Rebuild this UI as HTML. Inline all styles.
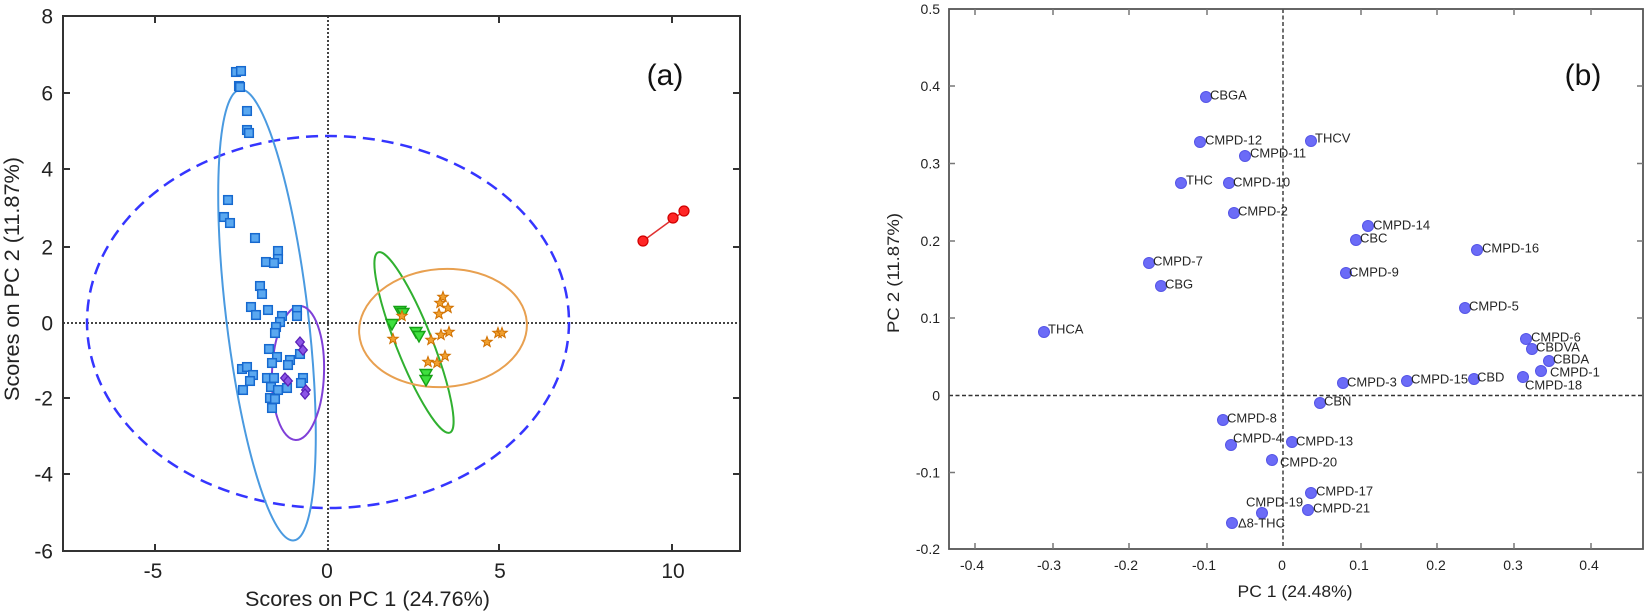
<!DOCTYPE html>
<html>
<head>
<meta charset="utf-8">
<style>
html,body{margin:0;padding:0;background:#fff;}
svg{display:block;}
text{font-family:"Liberation Sans",Arial,sans-serif;}
</style>
</head>
<body>
<svg width="1650" height="614" viewBox="0 0 1650 614" xmlns="http://www.w3.org/2000/svg">
<defs>
  <rect id="sq" x="-4.3" y="-4.3" width="8.6" height="8.6" fill="#5aa8f0" stroke="#1769cf" stroke-width="1.5"/>
  <path id="dm" d="M0,-5 L4.3,0 L0,5 L-4.3,0Z" fill="#8c55e6" stroke="#5a22b8" stroke-width="1.3"/>
  <path id="tr" d="M-6,-4.5 L6,-4.5 L0,6Z" fill="#3fe03f" stroke="#16a016" stroke-width="1.4"/>
  <path id="st" d="M0,-5.5 L1.35,-1.86 L5.23,-1.7 L2.19,0.71 L3.23,4.45 L0,2.3 L-3.23,4.45 L-2.19,0.71 L-5.23,-1.7 L-1.35,-1.86Z" fill="#f0a030" stroke="#d07000" stroke-width="1"/>
  <circle id="rd" r="5" fill="#ff2626" stroke="#d00000" stroke-width="1.2"/>
  <circle id="bc" r="5.5" fill="#6b6bf7" stroke="#5555e6" stroke-width="1"/>
</defs>

<rect width="1650" height="614" fill="#fff"/>

<!-- ================= LEFT PLOT (a) ================= -->
<!-- zero lines -->
<line x1="63" y1="323" x2="740" y2="323" stroke="#444" stroke-width="2" stroke-dasharray="2 2"/>
<line x1="328" y1="16" x2="328" y2="551" stroke="#444" stroke-width="2" stroke-dasharray="2 2"/>

<!-- big dashed ellipse -->
<ellipse cx="328" cy="322" rx="241" ry="186" fill="none" stroke="#3535ff" stroke-width="2.5" stroke-dasharray="12 7"/>

<!-- group ellipses -->
<ellipse cx="267" cy="315" rx="41" ry="227" fill="none" stroke="#4a9ae0" stroke-width="2" transform="rotate(-6.8 267 315)"/>
<ellipse cx="298" cy="373" rx="26" ry="67" fill="none" stroke="#8040d8" stroke-width="2" transform="rotate(2 298 373)"/>
<ellipse cx="414" cy="342.5" rx="18" ry="97" fill="none" stroke="#30b030" stroke-width="2" transform="rotate(-21.7 414 342.5)"/>
<ellipse cx="443" cy="328" rx="84" ry="59" fill="none" stroke="#e8a050" stroke-width="2" transform="rotate(-4 443 328)"/>

<!-- blue squares -->
<use href="#sq" x="236" y="72"/><use href="#sq" x="241" y="71"/>
<use href="#sq" x="239" y="86"/><use href="#sq" x="240" y="87"/>
<use href="#sq" x="247" y="111"/><use href="#sq" x="247" y="130"/><use href="#sq" x="249" y="133"/>
<use href="#sq" x="228" y="200"/><use href="#sq" x="224" y="217"/><use href="#sq" x="230" y="223"/>
<use href="#sq" x="255" y="238"/><use href="#sq" x="278" y="251"/><use href="#sq" x="278" y="259"/>
<use href="#sq" x="266" y="262"/><use href="#sq" x="274" y="263"/>
<use href="#sq" x="260" y="286"/><use href="#sq" x="262" y="294"/>
<use href="#sq" x="251" y="307"/><use href="#sq" x="256" y="315"/><use href="#sq" x="268" y="310"/>
<use href="#sq" x="282" y="316"/><use href="#sq" x="280" y="322"/><use href="#sq" x="297" y="310"/><use href="#sq" x="297" y="316"/>
<use href="#sq" x="276" y="327"/><use href="#sq" x="275" y="333"/>
<use href="#sq" x="269" y="349"/><use href="#sq" x="277" y="357"/><use href="#sq" x="272" y="363"/>
<use href="#sq" x="290" y="360"/><use href="#sq" x="288" y="365"/><use href="#sq" x="300" y="354"/>
<use href="#sq" x="242" y="369"/><use href="#sq" x="247" y="367"/><use href="#sq" x="253" y="375"/><use href="#sq" x="250" y="381"/>
<use href="#sq" x="267" y="378"/><use href="#sq" x="274" y="378"/><use href="#sq" x="271" y="387"/><use href="#sq" x="278" y="390"/>
<use href="#sq" x="287" y="388"/><use href="#sq" x="303" y="378"/><use href="#sq" x="301" y="383"/>
<use href="#sq" x="243" y="390"/><use href="#sq" x="270" y="398"/><use href="#sq" x="275" y="399"/><use href="#sq" x="272" y="408"/>

<!-- purple diamonds -->
<use href="#dm" x="300" y="342"/><use href="#dm" x="303" y="350"/>
<use href="#dm" x="285" y="378"/><use href="#dm" x="288" y="381"/>
<use href="#dm" x="306" y="390"/><use href="#dm" x="305" y="394"/>

<!-- green triangles -->
<use href="#tr" x="400" y="311"/><use href="#tr" x="403" y="313"/><use href="#tr" x="392" y="324"/>
<use href="#tr" x="416" y="332"/><use href="#tr" x="419" y="336"/>
<use href="#tr" x="426" y="374"/><use href="#tr" x="426" y="380"/>

<!-- orange stars -->
<use href="#st" x="443" y="297"/><use href="#st" x="440" y="303"/><use href="#st" x="448" y="308"/><use href="#st" x="439" y="314"/>
<use href="#st" x="402" y="316"/><use href="#st" x="393" y="339"/>
<use href="#st" x="431" y="340"/><use href="#st" x="441" y="335"/><use href="#st" x="449" y="332"/>
<use href="#st" x="445" y="356"/><use href="#st" x="428" y="362"/><use href="#st" x="437" y="363"/>
<use href="#st" x="487" y="342"/><use href="#st" x="498" y="333"/><use href="#st" x="502" y="333"/>

<!-- red -->
<line x1="643" y1="241" x2="684" y2="211" stroke="#e03030" stroke-width="1.5"/>
<use href="#rd" x="643" y="241"/><use href="#rd" x="673" y="218"/><use href="#rd" x="684" y="211"/>

<!-- frame -->
<rect x="63" y="16" width="677" height="535" fill="none" stroke="#333" stroke-width="2"/>
<!-- ticks -->
<g stroke="#333" stroke-width="2">
  <line x1="155" y1="551" x2="155" y2="544"/><line x1="499" y1="551" x2="499" y2="544"/><line x1="672" y1="551" x2="672" y2="544"/>
  <line x1="155" y1="16" x2="155" y2="23"/><line x1="499" y1="16" x2="499" y2="23"/><line x1="672" y1="16" x2="672" y2="23"/>
  <line x1="63" y1="93" x2="70" y2="93"/><line x1="63" y1="169" x2="70" y2="169"/><line x1="63" y1="247" x2="70" y2="247"/>
  <line x1="63" y1="398" x2="70" y2="398"/><line x1="63" y1="474" x2="70" y2="474"/>
  <line x1="740" y1="93" x2="733" y2="93"/><line x1="740" y1="169" x2="733" y2="169"/><line x1="740" y1="247" x2="733" y2="247"/>
  <line x1="740" y1="398" x2="733" y2="398"/><line x1="740" y1="474" x2="733" y2="474"/>
</g>
<!-- tick labels -->
<g font-size="21" fill="#222" text-anchor="end">
  <text x="53" y="23.5">8</text>
  <text x="53" y="100.5">6</text>
  <text x="53" y="176.5">4</text>
  <text x="53" y="254.5">2</text>
  <text x="53" y="330.5">0</text>
  <text x="53" y="405.5">-2</text>
  <text x="53" y="481.5">-4</text>
  <text x="53" y="558.5">-6</text>
</g>
<g font-size="21" fill="#222" text-anchor="middle">
  <text x="153" y="578">-5</text>
  <text x="327" y="578">0</text>
  <text x="500" y="578">5</text>
  <text x="673" y="578">10</text>
</g>
<text x="367.5" y="606" font-size="21.5" fill="#222" text-anchor="middle" textLength="245" lengthAdjust="spacingAndGlyphs">Scores on PC 1 (24.76%)</text>
<text transform="translate(19 279) rotate(-90)" font-size="21.5" fill="#222" text-anchor="middle" textLength="244" lengthAdjust="spacingAndGlyphs">Scores on PC 2 (11.87%)</text>
<text x="665" y="85" font-size="30" fill="#111" text-anchor="middle">(a)</text>

<!-- ================= RIGHT PLOT (b) ================= -->
<line x1="949" y1="395.5" x2="1643" y2="395.5" stroke="#333" stroke-width="1.4" stroke-dasharray="4 2.5"/>
<line x1="1283" y1="9" x2="1283" y2="549" stroke="#333" stroke-width="1.4" stroke-dasharray="4 2.5"/>

<rect x="949" y="9" width="694" height="540" fill="none" stroke="#555" stroke-width="1.8"/>
<g stroke="#777" stroke-width="1.5">
  <line x1="975" y1="549" x2="975" y2="543"/><line x1="1053" y1="549" x2="1053" y2="543"/><line x1="1129" y1="549" x2="1129" y2="543"/><line x1="1207" y1="549" x2="1207" y2="543"/>
  <line x1="1361" y1="549" x2="1361" y2="543"/><line x1="1437" y1="549" x2="1437" y2="543"/><line x1="1514" y1="549" x2="1514" y2="543"/><line x1="1591" y1="549" x2="1591" y2="543"/>
  <line x1="975" y1="9" x2="975" y2="15"/><line x1="1053" y1="9" x2="1053" y2="15"/><line x1="1129" y1="9" x2="1129" y2="15"/><line x1="1207" y1="9" x2="1207" y2="15"/>
  <line x1="1361" y1="9" x2="1361" y2="15"/><line x1="1437" y1="9" x2="1437" y2="15"/><line x1="1514" y1="9" x2="1514" y2="15"/><line x1="1591" y1="9" x2="1591" y2="15"/>
  <line x1="949" y1="86" x2="955" y2="86"/><line x1="949" y1="163.5" x2="955" y2="163.5"/><line x1="949" y1="241" x2="955" y2="241"/><line x1="949" y1="318" x2="955" y2="318"/><line x1="949" y1="472.5" x2="955" y2="472.5"/>
  <line x1="1643" y1="86" x2="1637" y2="86"/><line x1="1643" y1="163.5" x2="1637" y2="163.5"/><line x1="1643" y1="241" x2="1637" y2="241"/><line x1="1643" y1="318" x2="1637" y2="318"/><line x1="1643" y1="472.5" x2="1637" y2="472.5"/>
</g>
<g font-size="14" fill="#222" text-anchor="end">
  <text x="940" y="14">0.5</text>
  <text x="940" y="91">0.4</text>
  <text x="940" y="168.5">0.3</text>
  <text x="940" y="246">0.2</text>
  <text x="940" y="323">0.1</text>
  <text x="940" y="400.5">0</text>
  <text x="940" y="477.5">-0.1</text>
  <text x="940" y="554">-0.2</text>
</g>
<g font-size="14" fill="#222" text-anchor="middle">
  <text x="972" y="570">-0.4</text>
  <text x="1049" y="570">-0.3</text>
  <text x="1126" y="570">-0.2</text>
  <text x="1204" y="570">-0.1</text>
  <text x="1282" y="570">0</text>
  <text x="1359" y="570">0.1</text>
  <text x="1436" y="570">0.2</text>
  <text x="1513" y="570">0.3</text>
  <text x="1589" y="570">0.4</text>
</g>
<text x="1295" y="597" font-size="17" fill="#222" text-anchor="middle" textLength="115" lengthAdjust="spacingAndGlyphs">PC 1 (24.48%)</text>
<text transform="translate(899 273) rotate(-90)" font-size="17" fill="#222" text-anchor="middle" textLength="120" lengthAdjust="spacingAndGlyphs">PC 2 (11.87%)</text>
<text x="1583" y="85" font-size="30" fill="#111" text-anchor="middle">(b)</text>

<!-- points -->
<use href="#bc" x="1206" y="97"/><use href="#bc" x="1200" y="142"/><use href="#bc" x="1245" y="156"/>
<use href="#bc" x="1181" y="183"/><use href="#bc" x="1229" y="183"/><use href="#bc" x="1234" y="213"/>
<use href="#bc" x="1311" y="141"/><use href="#bc" x="1368" y="226"/><use href="#bc" x="1356" y="240"/>
<use href="#bc" x="1477" y="250"/><use href="#bc" x="1346" y="273"/><use href="#bc" x="1149" y="263"/>
<use href="#bc" x="1161" y="286"/><use href="#bc" x="1465" y="308"/><use href="#bc" x="1044" y="332"/>
<use href="#bc" x="1526" y="339"/><use href="#bc" x="1532" y="349"/><use href="#bc" x="1549" y="361"/>
<use href="#bc" x="1541" y="371"/><use href="#bc" x="1523" y="377"/><use href="#bc" x="1474" y="379"/>
<use href="#bc" x="1407" y="381"/><use href="#bc" x="1343" y="383"/><use href="#bc" x="1320" y="403"/>
<use href="#bc" x="1223" y="420"/><use href="#bc" x="1231" y="445"/><use href="#bc" x="1292" y="442"/>
<use href="#bc" x="1272" y="460"/><use href="#bc" x="1311" y="493"/><use href="#bc" x="1308" y="510"/>
<use href="#bc" x="1262" y="513"/><use href="#bc" x="1232" y="523"/>

<!-- labels -->
<g font-size="13" fill="#262626">
  <text x="1210" y="99.5">CBGA</text>
  <text x="1205" y="144.5">CMPD-12</text>
  <text x="1250" y="157.5">CMPD-11</text>
  <text x="1186" y="184.5">THC</text>
  <text x="1233" y="186.5">CMPD-10</text>
  <text x="1238" y="215.5">CMPD-2</text>
  <text x="1315" y="142.5">THCV</text>
  <text x="1373" y="229.5">CMPD-14</text>
  <text x="1360" y="242.5">CBC</text>
  <text x="1482" y="252.5">CMPD-16</text>
  <text x="1349" y="276.5">CMPD-9</text>
  <text x="1153" y="265.5">CMPD-7</text>
  <text x="1165" y="288.5">CBG</text>
  <text x="1469" y="310.5">CMPD-5</text>
  <text x="1048" y="333.5">THCA</text>
  <text x="1531" y="341.5">CMPD-6</text>
  <text x="1536" y="351.5">CBDVA</text>
  <text x="1553" y="363.5">CBDA</text>
  <text x="1550" y="376.5">CMPD-1</text>
  <text x="1525" y="389.5">CMPD-18</text>
  <text x="1477" y="381.5">CBD</text>
  <text x="1411" y="383.5">CMPD-15</text>
  <text x="1347" y="386.5">CMPD-3</text>
  <text x="1324" y="405.5">CBN</text>
  <text x="1227" y="422.5">CMPD-8</text>
  <text x="1233" y="442.5">CMPD-4</text>
  <text x="1296" y="445.5">CMPD-13</text>
  <text x="1280" y="466.5">CMPD-20</text>
  <text x="1316" y="495.5">CMPD-17</text>
  <text x="1313" y="512.5">CMPD-21</text>
  <text x="1246" y="506.5">CMPD-19</text>
  <text x="1238" y="527.5">Δ8-THC</text>
</g>
</svg>
</body>
</html>
